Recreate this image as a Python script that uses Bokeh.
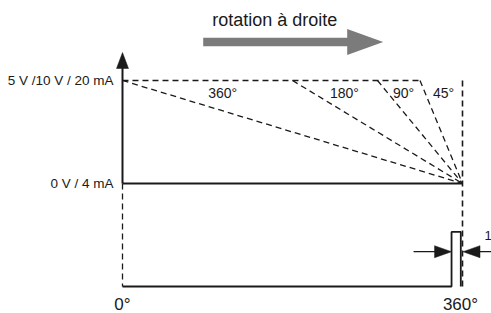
from bokeh.plotting import figure
from bokeh.models import Range1d
from bokeh.embed import file_html
from bokeh.resources import INLINE
from bokeh.core.properties import value

# ---------------- data ----------------
sweep_angles = [360, 180, 90, 45]                 # rotation angle for full output
angle_labels = ["360°", "180°", "90°", "45°"]
angle_label_pos = [106, 235, 297.5, 340]          # degrees (label centres)
level_labels = ["5 V /10 V / 20 mA", "0 V / 4 mA"]
levels = [1.0, 0.0]
x_tick_labels = ["0°", "360°"]
x_ticks = [0, 360]
full_turn = 360
pulse_deg = [0, 348.4, 348.4, 358.2, 358.2]        # switching output
pulse_val = [-1.0, -1.0, -0.47, -0.47, -1.0]
pulse_label = "1"
title_text = "rotation à droite"

# ---------------- layout ----------------
W, H = 491, 313
SX = 340 / 360          # px per degree
SY = 103                # px per unit
X0, Y0 = 122, 183       # pixel position of (0°, 0) inside the figure

p = figure(width=W, height=H, output_backend="svg", toolbar_location=None,
           x_axis_type=None, y_axis_type=None,
           x_range=Range1d(-X0 / SX, (W - X0) / SX),
           y_range=Range1d((Y0 - H) / SY, Y0 / SY),
           min_border=0, outline_line_color=None, background_fill_color="white")
p.min_border_left = p.min_border_right = p.min_border_top = p.min_border_bottom = 0
p.xgrid.visible = False
p.ygrid.visible = False

INK = "#1a1a1a"
FONT = value("Liberation Sans")
DASH = "6 4"

def dx(px):
    return px / SX

def dy(px):
    return px / SY

# dashed top level and ramps
top = levels[0]
last_start = full_turn - min(sweep_angles)
p.line([0, last_start], [top, top], line_color=INK, line_width=1.3, line_dash=DASH)
for a in sweep_angles:
    p.line([full_turn - a, full_turn], [top, levels[1]], line_color=INK,
           line_width=1.3, line_dash=DASH)

# vertical dashed guides
p.line([full_turn, full_turn], [top, pulse_val[0]], line_color=INK, line_width=1.6, line_dash=DASH)
p.line([0, 0], [levels[1], pulse_val[0]], line_color=INK, line_width=1.3, line_dash=DASH)

# axis (solid) with arrow head
tip = top + dy(28)
p.line([0, 0], [levels[1], tip - dy(14)], line_color=INK, line_width=2)
p.patch([0, dx(-6), dx(6)], [tip, tip - dy(16), tip - dy(16)], color=INK, line_width=0.5)
# output baseline
p.line([0, full_turn], [levels[1], levels[1]], line_color=INK, line_width=2)

# pulse output
p.line(pulse_deg, pulse_val, line_color=INK, line_width=1.8)

# dimension arrows for pulse width
ya = (pulse_val[0] + pulse_val[2]) / 2 + dy(7.5)
lt = pulse_deg[1]
p.line([lt - dx(38), lt - dx(10)], [ya, ya], line_color=INK, line_width=1.2)
p.patch([lt, lt - dx(17), lt - dx(17)], [ya, ya + dy(6), ya - dy(6)], color=INK, line_width=0.5)
rt = full_turn + dx(0.5)
p.line([rt + dx(10), rt + dx(40)], [ya, ya], line_color=INK, line_width=1.2)
p.patch([rt, rt + dx(17), rt + dx(17)], [ya, ya + dy(6), ya - dy(6)], color=INK, line_width=0.5)
p.text(x=[full_turn], y=[pulse_val[2]], text=[pulse_label], x_offset=22, y_offset=4,
       text_align="left", text_baseline="middle", text_font=FONT,
       text_font_size="13px", text_color=INK)

# big grey rotation arrow
ay = top + dy(38.5)
ax0, ax1, ax2 = dx(80.7), dx(224.7), dx(260.7)
p.patch([ax0, ax1, ax1, ax2, ax1, ax1, ax0],
        [ay + dy(4.2), ay + dy(4.2), ay + dy(13), ay, ay - dy(13), ay - dy(4.2), ay - dy(4.2)],
        color="#7b7b7b", line_width=0)
p.text(x=[ax0], y=[ay], text=[title_text], x_offset=9, y_offset=-22,
       text_align="left", text_baseline="middle", text_font=FONT,
       text_font_size="18px", text_color=INK)

# level labels
p.text(x=[0, 0], y=levels, text=level_labels, x_offset=-9, y_offset=0,
       text_align="right", text_baseline="middle", text_font=FONT,
       text_font_size="13.5px", text_color=INK)

# angle labels
p.text(x=angle_label_pos, y=[top] * len(angle_label_pos), text=angle_labels,
       y_offset=12, text_align="center", text_baseline="middle", text_font=FONT,
       text_font_size="14px", text_color=INK)

# x tick labels
p.text(x=x_ticks, y=[pulse_val[0]] * 2, text=x_tick_labels, y_offset=18,
       x_offset=[0, -2], text_align="center", text_baseline="middle",
       text_font=FONT, text_font_size="17px", text_color=INK)

open("out.html", "w").write(file_html(p, INLINE))
